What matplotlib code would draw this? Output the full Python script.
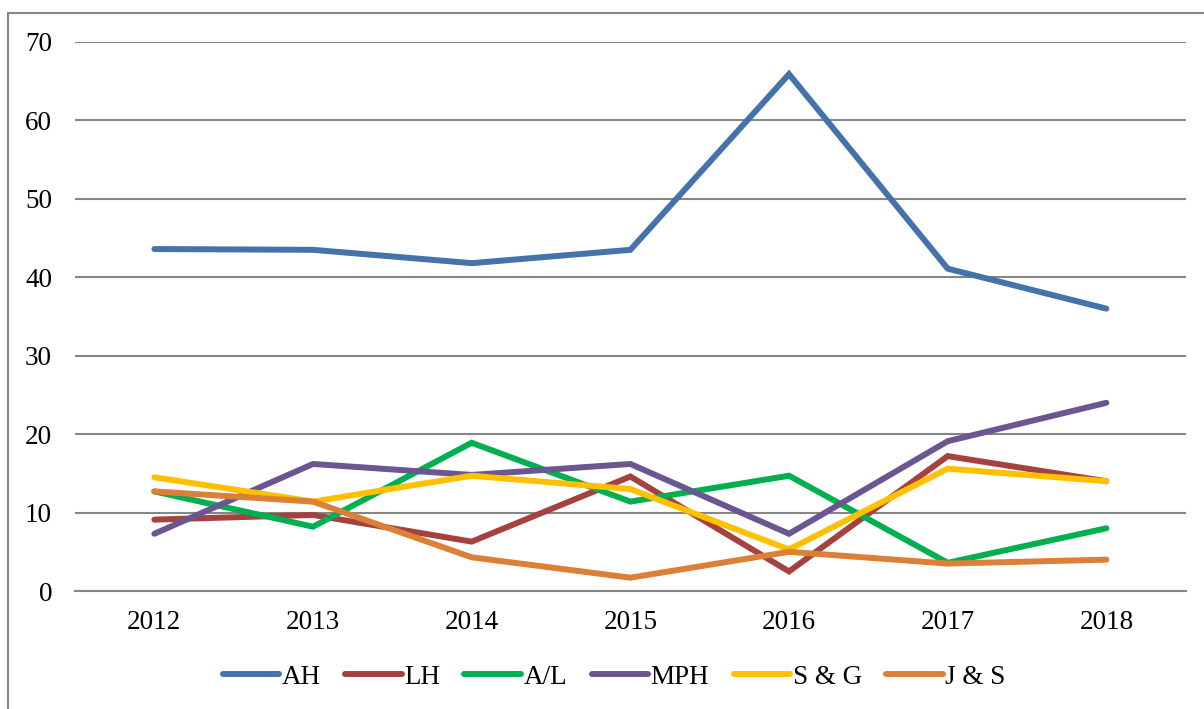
import matplotlib
matplotlib.use('Agg')
import matplotlib.pyplot as plt
from matplotlib.patches import Rectangle

plt.rcParams['font.family'] = ['Liberation Serif', 'DejaVu Serif']

years = ['2012', '2013', '2014', '2015', '2016', '2017', '2018']
ah = [43.6, 43.5, 41.8, 43.5, 65.9, 41.1, 36.0]
lh = [9.1, 9.7, 6.3, 14.6, 2.5, 17.2, 14.0]
al = [12.7, 8.2, 18.9, 11.4, 14.7, 3.6, 8.0]
mph = [7.3, 16.2, 14.8, 16.2, 7.3, 19.1, 24.0]
sg = [14.5, 11.4, 14.7, 13.0, 5.3, 15.6, 14.0]
js = [12.7, 11.4, 4.3, 1.7, 5.0, 3.5, 4.0]

series = [('AH', ah, '#4472AA'), ('LH', lh, '#A5423F'), ('A/L', al, '#00B050'),
          ('MPH', mph, '#6C5692'), ('S & G', sg, '#FFC000'), ('J & S', js, '#DC8037')]

fig = plt.figure(figsize=(12.04, 7.09), dpi=100)
ax = fig.add_axes([0.0623, 0.1664, 0.9225, 0.7744])

x = list(range(len(years)))
for name, vals, col in series:
    ax.plot(x, vals, color=col, linewidth=4.3, solid_capstyle='round',
            solid_joinstyle='miter', label=name)

ax.set_xlim(-0.5, len(years) - 0.5)
ax.set_ylim(0, 70)
ax.set_yticks(range(0, 71, 10))
ax.set_xticks(x)
ax.set_xticklabels(years)
ax.yaxis.grid(True, color='#868686', linewidth=1.5)
ax.set_axisbelow(True)
for s in ['top', 'right', 'left']:
    ax.spines[s].set_visible(False)
ax.spines['bottom'].set_color('#868686')
ax.spines['bottom'].set_linewidth(1.5)
ax.tick_params(axis='both', length=0, labelsize=19.5)
ax.tick_params(axis='y', pad=16.5)
ax.tick_params(axis='x', pad=14)

fig.legend(loc='center', bbox_to_anchor=(614 / 1204, 1 - 677 / 709), ncol=6, frameon=False,
           fontsize=19.5, handlelength=2.1, handletextpad=0.08, columnspacing=0.9)

# outer chart border
fig.patches.append(Rectangle((8 / 1204, -0.1), 1.2, 1 - 13 / 709 + 0.1,
                             transform=fig.transFigure, fill=False,
                             edgecolor='#868686', linewidth=1.5))

fig.savefig('out.png', dpi=100)
plt.close()
